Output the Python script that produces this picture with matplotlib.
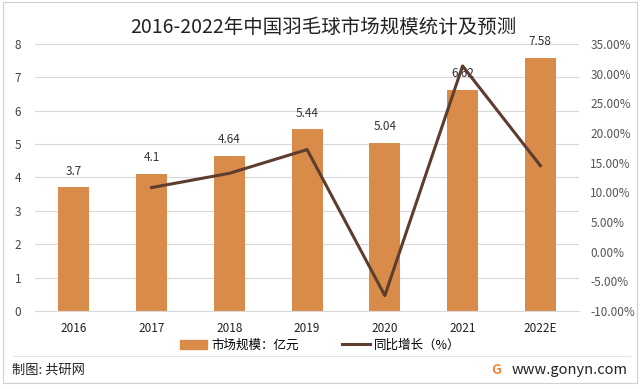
import matplotlib.pyplot as plt
from matplotlib.lines import Line2D
from matplotlib.patches import Patch, Rectangle
from matplotlib.ticker import FuncFormatter

plt.rcParams['font.family'] = ['Noto Sans CJK SC', 'DejaVu Sans']

years = ['2016', '2017', '2018', '2019', '2020', '2021', '2022E']
market = [3.7, 4.1, 4.64, 5.44, 5.04, 6.62, 7.58]
growth_years = ['2017', '2018', '2019', '2020', '2021', '2022E']
growth = [10.8, 13.2, 17.2, -7.4, 31.3, 14.5]

bar_color = '#D98C4A'
line_color = '#5C3D2E'

fig = plt.figure(figsize=(6.4, 3.89), dpi=100)
ax = fig.add_axes([0.0547, 0.2005, 0.8503, 0.6865])
ax2 = ax.twinx()

x = list(range(len(years)))
ax.bar(x, market, width=0.4, color=bar_color, zorder=2)
for xi, v in zip(x, market):
    ax.annotate(f'{v:g}', (xi, v), xytext=(0, 7), textcoords='offset points',
                ha='center', va='bottom', fontsize=8.5, color='#333333', zorder=1)

gx = [years.index(y) for y in growth_years]
ax2.plot(gx, growth, color=line_color, lw=2.2, zorder=3)

ax.set_xlim(-0.5, len(years) - 0.5)
ax.set_ylim(0, 8)
ax.set_yticks(range(0, 9))
ax2.set_ylim(-10, 35)
ax2.set_yticks(range(-10, 36, 5))
ax2.yaxis.set_major_formatter(FuncFormatter(lambda v, p: f'{v:.2f}%'))

ax.set_xticks(x)
ax.set_xticklabels(years, fontsize=8.5, color='#222222')
ax.tick_params(axis='y', labelsize=8.5, labelcolor='#444444', length=0, pad=10)
ax.tick_params(axis='x', length=0, pad=8)
ax2.tick_params(axis='y', labelsize=8.5, labelcolor='#555555', length=0, pad=8)
ax.grid(axis='y', color='#D9D9D9', lw=0.8, zorder=0)
ax.set_axisbelow(True)
for a in (ax, ax2):
    for s in a.spines.values():
        s.set_visible(False)
ax.spines['bottom'].set_visible(True)
ax.spines['bottom'].set_color('#D9D9D9')

fig.text(0.505, 0.93, '2016-2022年中国羽毛球市场规模统计及预测', ha='center', va='center',
         fontsize=14, color='#222222')

handles = [Patch(color=bar_color), Line2D([], [], color=line_color, lw=2.2)]
fig.legend(handles, ['市场规模：亿元', '同比增长（%）'], loc='center', ncol=2,
           bbox_to_anchor=(0.5, 0.113), frameon=False, fontsize=9,
           handlelength=2.2, columnspacing=3.5, handletextpad=0.3)

fig.add_artist(Line2D([0.02, 0.985], [0.085, 0.085], color='#E3E3E3', lw=0.8))
fig.add_artist(Rectangle((0.005, 0.015), 0.99, 0.98, fill=False, ec='#D0D0D0', lw=0.8))
fig.text(0.018, 0.048, '制图: 共研网', ha='left', va='center', fontsize=9.5, color='#222222')
fig.text(0.98, 0.05, 'www.gonyn.com', ha='right', va='center', fontsize=10.5, color='#222222')
fig.text(0.776, 0.048, 'G', ha='center', va='center', fontsize=10, color='#F08A3C',
         fontweight='bold')

fig.savefig('out.png', dpi=100)
